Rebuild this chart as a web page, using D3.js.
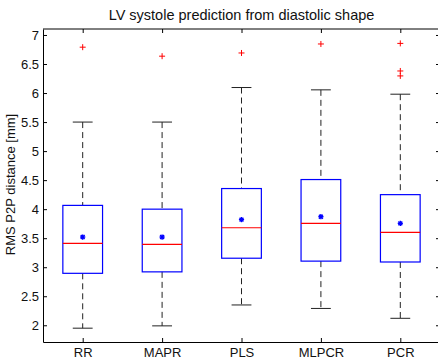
<!DOCTYPE html>
<html>
<head>
<meta charset="utf-8">
<script src="https://cdn.jsdelivr.net/npm/d3@7"></script>
<style>
  html, body { margin: 0; padding: 0; background: #fff; }
  svg { display: block; }
  text { font-family: "Liberation Sans", Arial, Helvetica, sans-serif; fill: #111; }
</style>
</head>
<body>
<svg id="chart" width="438" height="361"></svg>
<script>
// ---- data ----
const categories = ["RR", "MAPR", "PLS", "MLPCR", "PCR"];
const whiskerLow  = [1.95, 1.99, 2.35, 2.29, 2.12];
const q1          = [2.895, 2.92, 3.155, 3.105, 3.09];
const medians     = [3.41, 3.395, 3.68, 3.755, 3.60];
const q3          = [4.065, 4.00, 4.355, 4.51, 4.25];
const whiskerHigh = [5.50, 5.50, 6.095, 6.055, 5.98];
const means       = [3.52, 3.52, 3.82, 3.87, 3.755];
const outliers    = [[6.79], [6.635], [6.69], [6.845], [6.855, 6.38, 6.295]];
const yTicks      = [2, 2.5, 3, 3.5, 4, 4.5, 5, 5.5, 6, 6.5, 7];
const yTickLabels = ["2", "2.5", "3", "3.5", "4", "4.5", "5", "5.5", "6", "6.5", "7"];
const yDomain     = [1.712, 7.103];
const titleText   = "LV systole prediction from diastolic shape";
const yLabelText  = "RMS P2P distance [mm]";

// ---- layout ----
const mL = 43, mR = 440, mT = 29, mB = 342;
const svg = d3.select("#chart");

const x = d3.scalePoint().domain(categories).range([mL, mR]).padding(0.5);
const y = d3.scaleLinear().domain(yDomain).range([mB, mT]);
const step = x.step();
const boxW = step * 0.5;
const capW = step * 0.25;

// axes frame
const frame = svg.append("g");
frame.append("line").attr("x1", mL).attr("x2", mR).attr("y1", mT).attr("y2", mT)
  .attr("stroke", "#000").attr("stroke-width", 1);
frame.append("line").attr("x1", mR).attr("x2", mR).attr("y1", mT).attr("y2", mB)
  .attr("stroke", "#000").attr("stroke-width", 1);

const gLeft = svg.append("g").attr("transform", `translate(${mL},0)`)
  .call(d3.axisLeft(y).tickValues(yTicks).tickFormat((d, i) => yTickLabels[i])
    .tickSizeInner(-4).tickSizeOuter(0).tickPadding(4));
const gRight = svg.append("g").attr("transform", `translate(${mR},0)`)
  .call(d3.axisRight(y).tickValues(yTicks).tickFormat("")
    .tickSizeInner(-4).tickSizeOuter(0));
const gBottom = svg.append("g").attr("transform", `translate(0,${mB})`)
  .call(d3.axisBottom(x).tickSizeInner(-4).tickSizeOuter(0).tickPadding(6));
const gTop = svg.append("g").attr("transform", `translate(0,${mT})`)
  .call(d3.axisTop(x).tickFormat("").tickSizeInner(-4).tickSizeOuter(0));

[gLeft, gRight, gBottom, gTop].forEach(g => {
  g.selectAll(".domain").attr("stroke", "#000").attr("stroke-width", 1);
  g.selectAll(".tick line").attr("stroke", "#000").attr("stroke-width", 1);
});
gLeft.selectAll(".tick text").attr("font-size", 13).attr("fill", "#111")
  .attr("font-family", '"Liberation Sans", Arial, sans-serif');
gBottom.selectAll(".tick text").attr("font-size", 13).attr("fill", "#111")
  .attr("font-family", '"Liberation Sans", Arial, sans-serif');
gRight.select(".domain").remove();
gTop.select(".domain").remove();

// boxes
const data = categories.map((c, i) => ({
  c, lo: whiskerLow[i], q1: q1[i], med: medians[i], q3: q3[i], hi: whiskerHigh[i],
  mean: means[i], out: outliers[i]
}));

const g = svg.append("g");
const bx = g.selectAll("g.box").data(data).join("g").attr("class", "box");

// whiskers (dashed)
bx.append("line").attr("x1", d => x(d.c)).attr("x2", d => x(d.c))
  .attr("y1", d => y(d.hi)).attr("y2", d => y(d.q3))
  .attr("stroke", "#222").attr("stroke-width", 1).attr("stroke-dasharray", "6,4");
bx.append("line").attr("x1", d => x(d.c)).attr("x2", d => x(d.c))
  .attr("y1", d => y(d.q1)).attr("y2", d => y(d.lo))
  .attr("stroke", "#222").attr("stroke-width", 1).attr("stroke-dasharray", "6,4");
// caps
bx.append("line").attr("x1", d => x(d.c) - capW / 2).attr("x2", d => x(d.c) + capW / 2)
  .attr("y1", d => y(d.hi)).attr("y2", d => y(d.hi)).attr("stroke", "#222").attr("stroke-width", 1);
bx.append("line").attr("x1", d => x(d.c) - capW / 2).attr("x2", d => x(d.c) + capW / 2)
  .attr("y1", d => y(d.lo)).attr("y2", d => y(d.lo)).attr("stroke", "#222").attr("stroke-width", 1);
// box
bx.append("rect").attr("x", d => x(d.c) - boxW / 2).attr("width", boxW)
  .attr("y", d => y(d.q3)).attr("height", d => y(d.q1) - y(d.q3))
  .attr("fill", "none").attr("stroke", "#0000ff").attr("stroke-width", 1.2);
// median
bx.append("line").attr("x1", d => x(d.c) - boxW / 2).attr("x2", d => x(d.c) + boxW / 2)
  .attr("y1", d => y(d.med)).attr("y2", d => y(d.med)).attr("stroke", "#ff0000").attr("stroke-width", 1.2);
// mean marker (asterisk)
const star = bx.append("g").attr("transform", d => `translate(${x(d.c)},${y(d.mean)})`);
const r = 2.6;
[[-r, 0, r, 0], [0, -r, 0, r], [-r * 0.75, -r * 0.75, r * 0.75, r * 0.75], [-r * 0.75, r * 0.75, r * 0.75, -r * 0.75]]
  .forEach(s => star.append("line").attr("x1", s[0]).attr("y1", s[1]).attr("x2", s[2]).attr("y2", s[3])
    .attr("stroke", "#0000ff").attr("stroke-width", 1.4));
star.append("circle").attr("r", 1.6).attr("fill", "#0000ff");
// outliers
bx.each(function(d) {
  d3.select(this).selectAll("g.out").data(d.out).join("g").attr("class", "out")
    .attr("transform", v => `translate(${x(d.c)},${y(v)})`)
    .each(function() {
      const o = d3.select(this);
      o.append("line").attr("x1", -3).attr("x2", 3).attr("y1", 0).attr("y2", 0).attr("stroke", "#ff0000").attr("stroke-width", 1);
      o.append("line").attr("x1", 0).attr("x2", 0).attr("y1", -3).attr("y2", 3).attr("stroke", "#ff0000").attr("stroke-width", 1);
    });
});

// title
svg.append("text").attr("x", (mL + mR) / 2).attr("y", 20).attr("text-anchor", "middle")
  .attr("font-size", 14.5).text(titleText);
// y label
svg.append("text").attr("transform", `translate(15,${(mT + mB) / 2 - 1}) rotate(-90)`)
  .attr("text-anchor", "middle").attr("font-size", 13).text(yLabelText);
</script>
</body>
</html>
